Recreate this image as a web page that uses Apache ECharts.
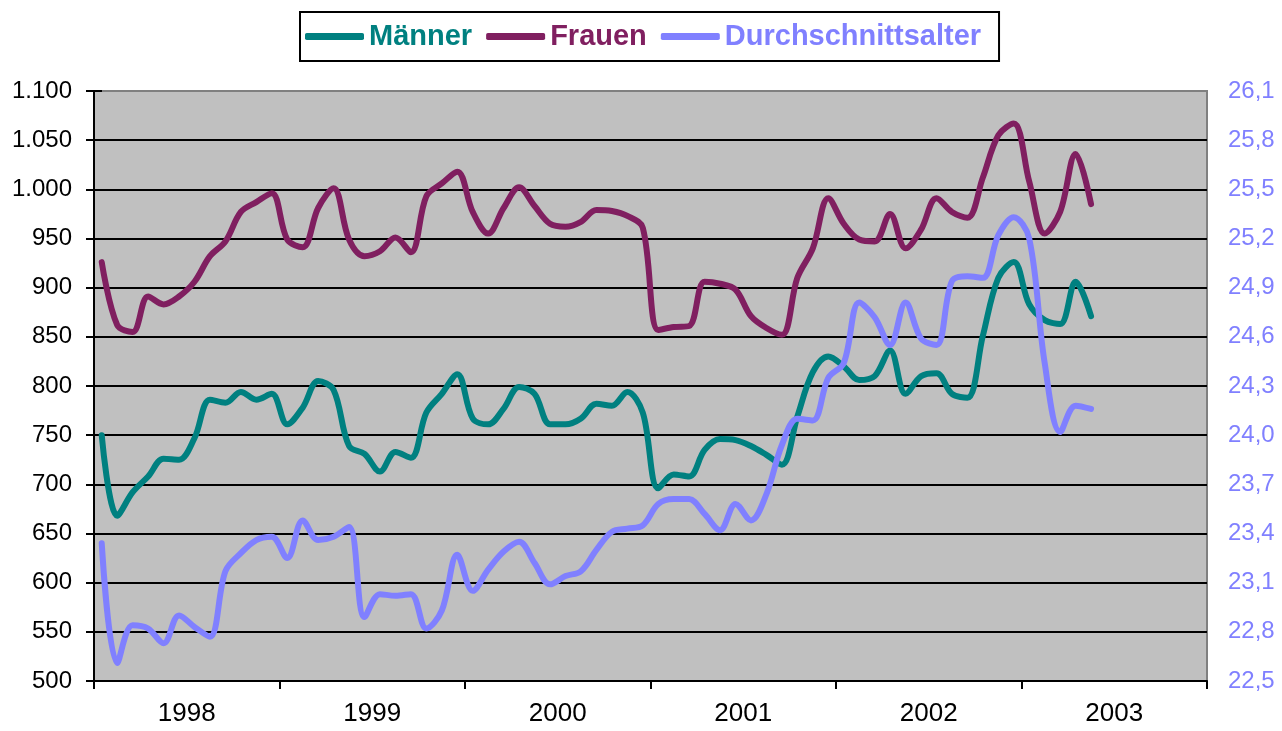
<!DOCTYPE html>
<html lang="de">

<head>
  <meta charset="UTF-8">
  <title>Männer, Frauen, Durchschnittsalter</title>
  <style>
    html, body { margin: 0; padding: 0; background: #fff; }
    #main { width: 1282px; height: 731px; }
  </style>
</head>

<body>
  <div id="main"></div>

  <script src="https://cdn.jsdelivr.net/npm/echarts@6/dist/echarts.min.js"></script>
  <script>

  // Jahre auf der x-Achse (jeweils 12 Monate)
  const years = ['1998', '1999', '2000', '2001', '2002', '2003'];

  // Monatswerte, Jan 1998 bis Mai 2003
  const maenner = [
    750, 668, 692, 708, 726, 725, 747, 786, 783, 794, 786, 792,
    761, 778, 805, 796, 739, 731, 713, 733, 727, 773, 792, 812,
    767, 761, 777, 799, 792, 761, 761, 767, 782, 780, 794, 773,
    696, 710, 708, 735, 746, 745, 739, 730, 720, 769, 814, 830,
    820, 806, 810, 836, 792, 810, 813, 792, 788, 851, 910, 926,
    883, 867, 863, 906, 871
  ];
  const frauen = [
    926, 862, 855, 891, 883, 891, 906, 932, 947, 977, 987, 996,
    949, 941, 981, 1001, 949, 932, 937, 951, 936, 993, 1006, 1018,
    977, 955, 981, 1002, 983, 965, 962, 967, 979, 978, 973, 961,
    857, 860, 861, 906, 904, 898, 871, 859, 852, 910, 940, 991,
    965, 949, 947, 975, 940, 959, 991, 977, 971, 1012, 1055, 1067,
    1008, 955, 977, 1036, 985
  ];
  const alter = [
    23.34, 22.61, 22.84, 22.82, 22.73, 22.90, 22.83, 22.77, 23.17, 23.28, 23.36, 23.38,
    23.25, 23.48, 23.36, 23.38, 23.44, 22.89, 23.03, 23.02, 23.03, 22.82, 22.93, 23.27,
    23.05, 23.18, 23.29, 23.35, 23.22, 23.09, 23.14, 23.17, 23.30, 23.41, 23.43, 23.45,
    23.58, 23.61, 23.61, 23.52, 23.42, 23.58, 23.48, 23.64, 23.94, 24.10, 24.09, 24.35,
    24.44, 24.81, 24.72, 24.55, 24.81, 24.59, 24.55, 24.94, 24.97, 24.96, 25.22, 25.33,
    25.20, 24.44, 24.02, 24.18, 24.16
  ];

  const colMaenner = '#008080';
  const colFrauen = '#801F60';
  const colAlter = '#8080FF';
  const font = 'Liberation Sans, Arial, sans-serif';

  // Monat i liegt in der Mitte seines Feldes
  function toPoints(arr) {
    return arr.map((v, i) => [i + 0.5, v]);
  }

  function lineSeries(name, arr, color, yIndex) {
    return {
      name: name,
      type: 'line',
      xAxisIndex: 0,
      yAxisIndex: yIndex,
      data: toPoints(arr),
      smooth: 0.35,
      symbol: 'none',
      color: color,
      lineStyle: { width: 6, cap: 'round', join: 'round' }
    };
  }

  let myChart = echarts.init(document.getElementById('main'));

  let option = {
    animation: false,
    backgroundColor: '#fff',
    legend: {
      left: 300,
      top: 12,
      padding: [10, 18, 10, 5],
      itemGap: 14,
      itemWidth: 59,
      itemHeight: 7,
      icon: 'roundRect',
      borderColor: '#000',
      borderWidth: 2,
      textStyle: {
        fontFamily: font,
        fontSize: 29,
        fontWeight: 'bold'
      },
      data: [
        { name: 'Männer', textStyle: { color: colMaenner } },
        { name: 'Frauen', textStyle: { color: colFrauen } },
        { name: 'Durchschnittsalter', textStyle: { color: colAlter } }
      ]
    },
    grid: {
      left: 94,
      right: 75,
      top: 91,
      bottom: 50,
      show: true,
      backgroundColor: '#C0C0C0',
      borderColor: '#808080',
      borderWidth: 2
    },
    xAxis: [{
      type: 'value',
      position: 'bottom',
      min: 0,
      max: 72,
      interval: 12,
      axisLine: { lineStyle: { color: '#000', width: 2 } },
      axisTick: { length: 8, lineStyle: { color: '#000', width: 2 } },
      axisLabel: { show: false },
      splitLine: { show: false }
    }, {
      // nur für die Jahresbeschriftung zwischen den Strichen
      type: 'value',
      position: 'bottom',
      min: 0,
      max: 72,
      interval: 6,
      axisLine: { show: false },
      axisTick: { show: false },
      splitLine: { show: false },
      axisLabel: {
        margin: 20,
        color: '#000',
        fontFamily: font,
        fontSize: 26,
        formatter: v => (v % 12 === 6 ? years[(v - 6) / 12] : '')
      }
    }],
    yAxis: [{
      type: 'value',
      position: 'left',
      min: 500,
      max: 1100,
      interval: 50,
      axisLine: { show: true, lineStyle: { color: '#000', width: 2 } },
      axisTick: { show: true, length: 8, lineStyle: { color: '#000', width: 2 } },
      axisLabel: {
        margin: 22,
        color: '#000',
        fontFamily: font,
        fontSize: 24,
        formatter: v => String(v).replace(/\B(?=(\d{3})+(?!\d))/g, '.')
      },
      splitLine: {
        show: true,
        showMinLine: false,
        showMaxLine: false,
        lineStyle: { color: '#000', width: 2 }
      }
    }, {
      type: 'value',
      position: 'right',
      min: 22.5,
      max: 26.1,
      interval: 0.3,
      axisLine: { show: true, lineStyle: { color: '#000', width: 2 } },
      axisTick: { show: true, length: 8, lineStyle: { color: '#000', width: 2 } },
      axisLabel: {
        margin: 21,
        color: colAlter,
        fontFamily: font,
        fontSize: 24,
        formatter: v => v.toFixed(1).replace('.', ',')
      },
      splitLine: { show: false }
    }],
    series: [
      lineSeries('Männer', maenner, colMaenner, 0),
      lineSeries('Frauen', frauen, colFrauen, 0),
      lineSeries('Durchschnittsalter', alter, colAlter, 1)
    ]
  };

  myChart.setOption(option);
  </script>
</body>

</html>
